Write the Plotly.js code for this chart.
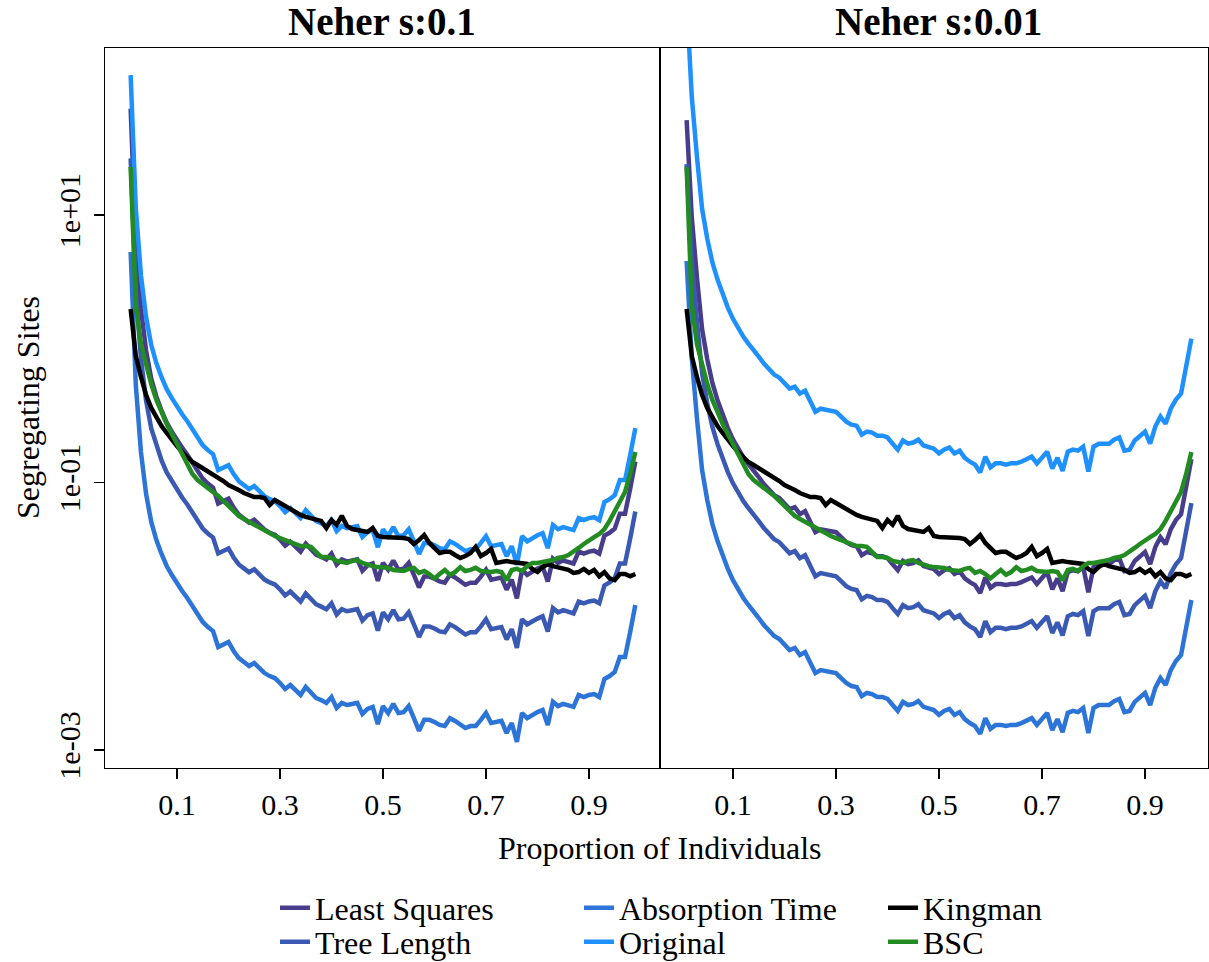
<!DOCTYPE html>
<html>
<head>
<meta charset="utf-8">
<script src="https://cdn.plot.ly/plotly-3.0.1.min.js"></script>
<style>html,body{margin:0;padding:0;background:#fff;}</style>
</head>
<body>
<div id="chart" style="width:1209px;height:962px;"></div>
<script>
// Proportion of individuals (x grid)
var props = [0.01,0.02,0.03,0.04,0.05,0.06,0.07,0.08,0.09,0.10,
0.11,0.12,0.13,0.14,0.15,0.16,0.17,0.18,0.19,0.20,
0.21,0.22,0.23,0.24,0.25,0.26,0.27,0.28,0.29,0.30,
0.31,0.32,0.33,0.34,0.35,0.36,0.37,0.38,0.39,0.40,
0.41,0.42,0.43,0.44,0.45,0.46,0.47,0.48,0.49,0.50,
0.51,0.52,0.53,0.54,0.55,0.56,0.57,0.58,0.59,0.60,
0.61,0.62,0.63,0.64,0.65,0.66,0.67,0.68,0.69,0.70,
0.71,0.72,0.73,0.74,0.75,0.76,0.77,0.78,0.79,0.80,
0.81,0.82,0.83,0.84,0.85,0.86,0.87,0.88,0.89,0.90,
0.91,0.92,0.93,0.94,0.95,0.96,0.97,0.98,0.99];

// ---- Panel 1: Neher s:0.1 ----
var lsqS01 = [62.4,6.32,1.99,0.968,0.598,0.438,0.345,0.28,0.24,0.2056,
0.1822,0.1615,0.1408,0.1206,0.1069,0.0981,0.0916,0.0695,0.0732,0.0758,
0.0649,0.0575,0.0537,0.0502,0.0527,0.0484,0.0444,0.0421,0.0407,0.0374,
0.0337,0.0361,0.0332,0.0304,0.0349,0.032,0.0289,0.0278,0.0266,0.0294,
0.0243,0.0266,0.0256,0.0261,0.0266,0.0219,0.024,0.0248,0.0184,0.0251,
0.0223,0.0261,0.0223,0.0227,0.0251,0.0204,0.0164,0.0198,0.0198,0.0191,
0.0182,0.0178,0.0204,0.0195,0.0184,0.0172,0.0178,0.0178,0.0198,0.0223,
0.0188,0.0191,0.0195,0.0158,0.0188,0.0136,0.0223,0.0204,0.0216,0.0227,
0.0235,0.0182,0.027,0.0251,0.0261,0.0256,0.0248,0.0304,0.0294,0.0304,
0.0309,0.0294,0.0401,0.0421,0.0452,0.0585,0.0585,0.0899,0.1433];

var treeS01 = [26.5,2.68,0.845,0.41,0.254,0.186,0.146,0.119,0.102,0.0871,
0.0772,0.0685,0.0597,0.0511,0.0453,0.0416,0.0388,0.0295,0.031,0.0321,
0.0275,0.0244,0.0228,0.0213,0.0224,0.0205,0.0188,0.0179,0.0173,0.0159,
0.0143,0.0153,0.0141,0.0129,0.0148,0.0136,0.0123,0.0118,0.0113,0.0125,
0.0103,0.0113,0.0109,0.0111,0.0113,0.0093,0.0102,0.0105,0.0078,0.0107,
0.0095,0.0111,0.0095,0.0096,0.0107,0.0087,0.007,0.0084,0.0084,0.0081,
0.0077,0.0076,0.0087,0.0083,0.0078,0.0073,0.0076,0.0076,0.0084,0.0095,
0.008,0.0081,0.0083,0.0067,0.008,0.0058,0.0095,0.0087,0.0092,0.0096,
0.01,0.0077,0.0115,0.0107,0.0111,0.0109,0.0105,0.0129,0.0125,0.0129,
0.0131,0.0125,0.017,0.0179,0.0192,0.0248,0.0248,0.0381,0.0607];

var absS01 = [5.29,0.536,0.169,0.082,0.0507,0.0371,0.0292,0.02375,0.02034,0.01742,
0.01544,0.01369,0.01193,0.01022,0.00906,0.00831,0.00776,0.00589,0.0062,0.00642,
0.0055,0.00487,0.00455,0.00425,0.00447,0.0041,0.00376,0.00357,0.00345,0.00317,
0.00286,0.00306,0.00281,0.00258,0.00296,0.00271,0.00245,0.00236,0.00225,0.00249,
0.00206,0.00225,0.00217,0.00221,0.00225,0.00186,0.00203,0.0021,0.00156,0.00213,
0.00189,0.00221,0.00189,0.00192,0.00213,0.00173,0.00139,0.00168,0.00168,0.00162,
0.00154,0.00151,0.00173,0.00165,0.00156,0.00146,0.00151,0.00151,0.00168,0.00189,
0.00159,0.00162,0.00165,0.00134,0.00159,0.00115,0.00189,0.00173,0.00183,0.00192,
0.00199,0.00154,0.00229,0.00213,0.00221,0.00217,0.0021,0.00258,0.00249,0.00258,
0.00262,0.00249,0.0034,0.00357,0.00383,0.00496,0.00496,0.00762,0.01214];

var origS01 = [111,11.26,3.55,1.72,1.065,0.779,0.613,0.499,0.427,0.366,
0.324,0.287,0.251,0.215,0.19,0.1745,0.163,0.1237,0.1302,0.1348,
0.1155,0.1023,0.0956,0.0893,0.0939,0.0861,0.079,0.075,0.0725,0.0666,
0.0601,0.0643,0.059,0.0542,0.0622,0.0569,0.0515,0.0496,0.0473,0.0523,
0.0433,0.0473,0.0456,0.0464,0.0473,0.0391,0.0426,0.0441,0.0328,0.0447,
0.0397,0.0464,0.0397,0.0403,0.0447,0.0363,0.0292,0.0353,0.0353,0.034,
0.0323,0.0317,0.0363,0.0347,0.0328,0.0307,0.0317,0.0317,0.0353,0.0397,
0.0334,0.034,0.0347,0.0281,0.0334,0.0242,0.0397,0.0363,0.0384,0.0403,
0.0418,0.0323,0.0481,0.0447,0.0464,0.0456,0.0441,0.0542,0.0523,0.0542,
0.055,0.0523,0.0714,0.075,0.0804,0.1042,0.1042,0.16,0.255];

// ---- Panel 2: Neher s:0.01 ----
var lsqS001 = [51.2,9.61,3.42,1.401,0.836,0.555,0.412,0.319,0.255,0.21,
0.178,0.1547,0.1372,0.1236,0.1096,0.0972,0.0877,0.0805,0.0764,0.0701,
0.0632,0.0654,0.058,0.061,0.0514,0.0425,0.0447,0.0441,0.0433,0.0425,
0.039,0.0358,0.034,0.0334,0.0286,0.0302,0.0296,0.0281,0.0281,0.0272,
0.0245,0.0221,0.0259,0.0245,0.025,0.0262,0.0237,0.0233,0.0225,0.0207,
0.0221,0.0229,0.0207,0.0217,0.0192,0.018,0.0171,0.0149,0.0195,0.0163,
0.0174,0.0174,0.0171,0.0174,0.0174,0.018,0.0186,0.0195,0.0174,0.0192,
0.0214,0.0159,0.0192,0.0154,0.0214,0.0221,0.0217,0.0233,0.0151,0.0233,
0.0245,0.0245,0.0245,0.0262,0.0272,0.0217,0.0221,0.0259,0.0281,0.0302,
0.0245,0.0329,0.039,0.0346,0.0447,0.0523,0.058,0.0892,0.1495];

var treeS001 = [24.0,4.51,1.606,0.657,0.392,0.26,0.1935,0.1495,0.1196,0.0986,
0.0835,0.0726,0.0643,0.058,0.0514,0.0456,0.0411,0.0377,0.0358,0.0329,
0.0296,0.0307,0.0272,0.0286,0.0241,0.0199,0.021,0.0207,0.0203,0.0199,
0.0183,0.0168,0.016,0.0157,0.0134,0.0142,0.0139,0.0132,0.0132,0.0128,
0.0115,0.0104,0.0121,0.0115,0.0117,0.0123,0.0111,0.0109,0.0105,0.0097,
0.0104,0.0108,0.0097,0.0102,0.009,0.0084,0.008,0.007,0.0092,0.0076,
0.0082,0.0082,0.008,0.0082,0.0082,0.0084,0.0087,0.0092,0.0082,0.009,
0.01,0.0075,0.009,0.0072,0.01,0.0104,0.0102,0.0109,0.0071,0.0109,
0.0115,0.0115,0.0115,0.0123,0.0128,0.0102,0.0104,0.0121,0.0132,0.0142,
0.0115,0.0154,0.0183,0.0162,0.021,0.0245,0.0272,0.0418,0.0701];

var absS001 = [4.53,0.85,0.303,0.124,0.074,0.0491,0.0365,0.0282,0.02256,0.0186,
0.01576,0.01369,0.01214,0.01094,0.0097,0.0086,0.00776,0.00712,0.00676,0.0062,
0.00559,0.00579,0.00513,0.0054,0.00455,0.00376,0.00396,0.0039,0.00383,0.00376,
0.00345,0.00317,0.00301,0.00296,0.00253,0.00267,0.00262,0.00249,0.00249,0.00241,
0.00217,0.00196,0.00229,0.00217,0.00221,0.00232,0.0021,0.00206,0.00199,0.00183,
0.00196,0.00203,0.00183,0.00192,0.0017,0.00159,0.00151,0.00132,0.00173,0.00144,
0.00154,0.00154,0.00151,0.00154,0.00154,0.00159,0.00165,0.00173,0.00154,0.0017,
0.00189,0.00141,0.0017,0.00136,0.00189,0.00196,0.00192,0.00206,0.00134,0.00206,
0.00217,0.00217,0.00217,0.00232,0.00241,0.00192,0.00196,0.00229,0.00249,0.00267,
0.00217,0.00291,0.00345,0.00306,0.00396,0.00463,0.00513,0.00789,0.01323];

var origS001 = [408,76.5,27.3,11.16,6.66,4.42,3.29,2.54,2.03,1.674,
1.418,1.232,1.093,0.985,0.873,0.774,0.698,0.641,0.608,0.558,
0.503,0.521,0.462,0.486,0.41,0.338,0.356,0.351,0.345,0.338,
0.311,0.285,0.271,0.266,0.228,0.24,0.236,0.224,0.224,0.217,
0.195,0.176,0.206,0.195,0.199,0.209,0.189,0.185,0.179,0.165,
0.176,0.183,0.165,0.173,0.153,0.143,0.136,0.119,0.156,0.13,
0.139,0.139,0.136,0.139,0.139,0.143,0.149,0.156,0.139,0.153,
0.17,0.127,0.153,0.122,0.17,0.176,0.173,0.185,0.121,0.185,
0.195,0.195,0.195,0.209,0.217,0.173,0.176,0.206,0.224,0.24,
0.195,0.262,0.311,0.275,0.356,0.417,0.462,0.71,1.191];

// ---- Reference models (same in both panels) ----
var kingman = [1.983,0.883,0.615,0.451,0.361,0.303,0.2645,0.2345,0.2078,0.1875,
0.169,0.1551,0.1423,0.1351,0.1283,0.1219,0.1158,0.11,0.1026,0.0958,
0.0926,0.0879,0.0835,0.0806,0.0779,0.0779,0.0766,0.0679,0.074,0.0703,
0.0667,0.0634,0.0602,0.0572,0.0553,0.0543,0.0534,0.0516,0.0457,0.0525,
0.0483,0.0563,0.0474,0.0449,0.0442,0.0434,0.0427,0.0457,0.0398,0.0391,
0.0391,0.0391,0.0384,0.0384,0.0378,0.0347,0.0371,0.0405,0.0353,0.0324,
0.0297,0.0303,0.0303,0.0287,0.0273,0.0282,0.0297,0.033,0.0282,0.0297,
0.0319,0.025,0.0254,0.0259,0.0254,0.025,0.025,0.0246,0.02256,0.0214,
0.0233,0.0246,0.0237,0.0233,0.023,0.0222,0.0211,0.0214,0.0226,0.0211,
0.0222,0.0199,0.0214,0.0192,0.0186,0.0207,0.0207,0.0199,0.0207];

var bsc = [22.85,2.124,1.085,0.743,0.545,0.414,0.331,0.274,0.2305,0.194,
0.1633,0.1375,0.1158,0.1044,0.0975,0.0926,0.085,0.0793,0.0728,0.0667,
0.0602,0.0563,0.0534,0.0507,0.0483,0.0457,0.0434,0.0412,0.0398,0.0384,
0.0371,0.0359,0.0341,0.0335,0.0335,0.033,0.0303,0.0277,0.0277,0.0273,
0.0259,0.0254,0.025,0.0259,0.0263,0.025,0.0241,0.0237,0.0233,0.0233,
0.023,0.0222,0.0218,0.0218,0.0226,0.023,0.0211,0.0218,0.0207,0.0192,
0.0207,0.0222,0.0204,0.0214,0.0233,0.0218,0.0222,0.023,0.0218,0.0214,
0.0214,0.0218,0.0214,0.0186,0.0222,0.0226,0.0218,0.0237,0.025,0.025,
0.0254,0.0259,0.0263,0.0273,0.0277,0.0287,0.0303,0.0324,0.0347,0.0371,
0.0391,0.0412,0.0449,0.0516,0.0612,0.0703,0.085,0.1158,0.169];

var seriesNames = ["Least Squares","Tree Length","Absorption Time","Original","Kingman","BSC"];
var seriesColors = ["#483D8B","#3A59B2","#2C74D8","#1E90FF","#000000","#228B22"];
var legendRow = ["legend","legend2","legend","legend2","legend","legend2"];
var legendRanks = [1,1,2,2,3,3];
var panelTitles = ["Neher s:0.1","Neher s:0.01"];
var xTicks = [0.1,0.3,0.5,0.7,0.9];
var xTickText = ["0.1","0.3","0.5","0.7","0.9"];
var yTicks = [0.001,0.1,10];
var yTickText = ["1e-03","1e-01","1e+01"];

var panels = [
  [lsqS01, treeS01, absS01, origS01, kingman, bsc],
  [lsqS001, treeS001, absS001, origS001, kingman, bsc]
];

var FONT = "Liberation Serif, Times New Roman, serif";
var traces = [];
panels.forEach(function(series, p){
  series.forEach(function(vals, k){
    traces.push({
      type: "scatter", mode: "lines",
      x: props, y: vals,
      name: seriesNames[k],
      legend: legendRow[k],
      legendrank: legendRanks[k],
      showlegend: p === 0,
      xaxis: p === 0 ? "x" : "x2",
      yaxis: p === 0 ? "y" : "y2",
      line: {color: seriesColors[k], width: 4.5},
      hoverinfo: "skip"
    });
  });
});

var split = 555/1103;
var axisCommon = {
  showgrid: false, zeroline: false, showline: true, mirror: true,
  linecolor: "#000", linewidth: 1.2,
  ticks: "outside", ticklen: 10, tickwidth: 1.2, tickcolor: "#000",
  tickfont: {family: FONT, size: 30, color: "#000"}
};
function merge(a, b){ var o = {}; for (var k in a) o[k] = a[k]; for (var k2 in b) o[k2] = b[k2]; return o; }

function legendRowLayout(yPx){
  return {
    orientation: "h", x: (275-105)/1103, xanchor: "left",
    y: (768-yPx)/720, yanchor: "middle",
    entrywidth: 259, entrywidthmode: "pixels", itemwidth: 30,
    font: {family: FONT, size: 32, color: "#000"},
    bgcolor: "rgba(0,0,0,0)", traceorder: "normal"
  };
}

var yRange = [-3.1346, 2.2486];
var layout = {
  width: 1209, height: 962,
  margin: {l: 105, r: 1, t: 48, b: 194, autoexpand: false},
  paper_bgcolor: "#fff", plot_bgcolor: "#fff",
  font: {family: FONT, color: "#000"},
  showlegend: true,
  xaxis: merge(axisCommon, {domain: [0, split], range: [-0.0398, 1.0379], tickmode: "array", tickvals: xTicks, ticktext: xTickText, anchor: "y"}),
  xaxis2: merge(axisCommon, {domain: [split, 1], range: [-0.0417, 1.0223], tickmode: "array", tickvals: xTicks, ticktext: xTickText, anchor: "y2"}),
  yaxis: merge(axisCommon, {type: "log", range: yRange, tickmode: "array", tickvals: yTicks, ticktext: yTickText, tickangle: -90, ticklabelstandoff: 2, anchor: "x"}),
  yaxis2: merge(axisCommon, {type: "log", range: yRange, showticklabels: false, ticks: "", anchor: "x2"}),
  legend: legendRowLayout(908),
  legend2: legendRowLayout(942),
  annotations: [
    {text: "<b>" + panelTitles[0] + "</b>", xref: "paper", yref: "paper", x: (382-105)/1103, y: (768-22)/720, xanchor: "center", yanchor: "middle", showarrow: false, font: {family: FONT, size: 39, color: "#000"}},
    {text: "<b>" + panelTitles[1] + "</b>", xref: "paper", yref: "paper", x: (938-105)/1103, y: (768-22)/720, xanchor: "center", yanchor: "middle", showarrow: false, font: {family: FONT, size: 39, color: "#000"}},
    {text: "Proportion of Individuals", xref: "paper", yref: "paper", x: split, y: (768-848)/720, xanchor: "center", yanchor: "middle", showarrow: false, font: {family: FONT, size: 32, color: "#000"}},
    {text: "Segregating Sites", xref: "paper", yref: "paper", x: (28-105)/1103, y: 0.5, xanchor: "center", yanchor: "middle", textangle: -90, showarrow: false, font: {family: FONT, size: 32, color: "#000"}}
  ]
};

Plotly.newPlot("chart", traces, layout, {displayModeBar: false, staticPlot: true});
</script>
</body>
</html>
